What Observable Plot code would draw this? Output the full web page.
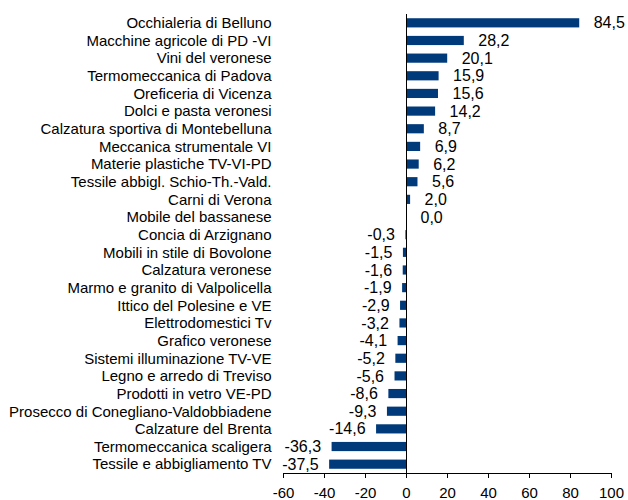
<!DOCTYPE html>
<html>
<head>
<meta charset="utf-8">
<script src="https://cdn.jsdelivr.net/npm/d3@7"></script>
<script src="https://cdn.jsdelivr.net/npm/@observablehq/plot@0.6"></script>
<style>
  html, body { margin: 0; padding: 0; background: #fff; }
  #chart svg { display: block; }
</style>
</head>
<body>
<div id="chart"></div>
<script>
const categories = [
  "Occhialeria di Belluno",
  "Macchine agricole di PD -VI",
  "Vini del veronese",
  "Termomeccanica di Padova",
  "Oreficeria di Vicenza",
  "Dolci e pasta veronesi",
  "Calzatura sportiva di Montebelluna",
  "Meccanica strumentale VI",
  "Materie plastiche TV-VI-PD",
  "Tessile abbigl. Schio-Th.-Vald.",
  "Carni di Verona",
  "Mobile del bassanese",
  "Concia di Arzignano",
  "Mobili in stile di Bovolone",
  "Calzatura veronese",
  "Marmo e granito di Valpolicella",
  "Ittico del Polesine e VE",
  "Elettrodomestici Tv",
  "Grafico veronese",
  "Sistemi illuminazione TV-VE",
  "Legno e arredo di Treviso",
  "Prodotti in vetro VE-PD",
  "Prosecco di Conegliano-Valdobbiadene",
  "Calzature del Brenta",
  "Termomeccanica scaligera",
  "Tessile e abbigliamento TV"
];
const values = [84.5, 28.2, 20.1, 15.9, 15.6, 14.2, 8.7, 6.9, 6.2, 5.6, 2.0, 0.0,
  -0.3, -1.5, -1.6, -1.9, -2.9, -3.2, -4.1, -5.2, -5.6, -8.6, -9.3, -14.6, -36.3, -37.5];
const xTicks = [-60, -40, -20, 0, 20, 40, 60, 80, 100];

const data = categories.map((c, i) => ({ cat: c, value: values[i] }));
const fmt = d => d.toFixed(1).replace(".", ",");
const color = "#003a7a";

const chart = Plot.plot({
  width: 628,
  height: 500,
  marginTop: 14,
  marginBottom: 27,
  marginLeft: 283,
  marginRight: 17,
  style: { fontFamily: "Liberation Sans, Arial, sans-serif", background: "#fff", color: "#000" },
  x: { domain: [-60, 100], label: null },
  y: { domain: categories, paddingInner: 0.48, paddingOuter: 0.24, round: false, label: null },
  marks: [
    Plot.barX(data, { y: "cat", x: "value", fill: color }),
    Plot.ruleX([0], { stroke: "#000", strokeWidth: 1 }),
    Plot.frame({ anchor: "bottom", stroke: "#000" }),
    Plot.axisX({ ticks: xTicks, tickFormat: d => String(d), tickSize: 5, tickPadding: 9, fontSize: 15, label: null, stroke: "#000" }),
    Plot.axisY({ tickSize: 0, tickPadding: 12, fontSize: 15, label: null }),
    Plot.text(data.filter(d => d.value >= 0), { y: "cat", x: "value", text: d => fmt(d.value), textAnchor: "start", dx: 14, fontSize: 16, fill: "#000" }),
    Plot.text(data.filter(d => d.value < 0), { y: "cat", x: "value", text: d => fmt(d.value), textAnchor: "end", dx: -11, fontSize: 16, fill: "#000" })
  ]
});
document.getElementById("chart").appendChild(chart);
</script>
</body>
</html>
